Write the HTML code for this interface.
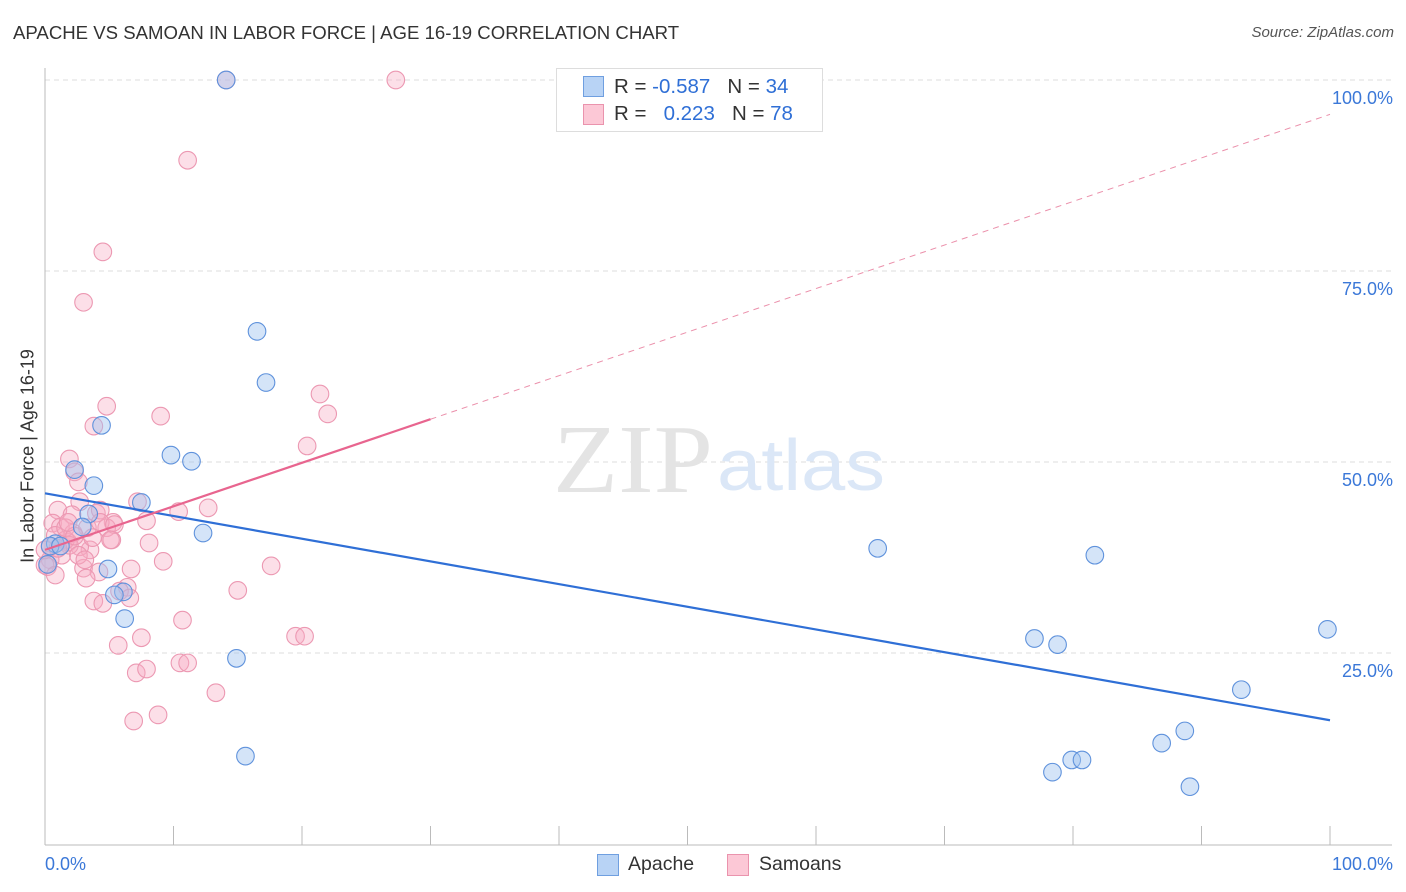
<!DOCTYPE html>
<html><head><meta charset="utf-8"><style>
body{margin:0;background:#fff;font-family:"Liberation Sans",sans-serif}
#wrap{position:relative;width:1406px;height:892px;overflow:hidden}
.t{position:absolute;white-space:nowrap}
</style></head><body>
<div id="wrap">
<div class="t" style="left:13px;top:22px;font-size:18.6px;color:#333">APACHE VS SAMOAN IN LABOR FORCE | AGE 16-19 CORRELATION CHART</div>
<div class="t" style="right:12px;top:24px;font-size:15px;font-style:italic;color:#555">Source: ZipAtlas.com</div>
<svg id="svg" width="1406" height="892" style="position:absolute;left:0;top:0"></svg>
<div class="t" style="left:28px;top:456px;font-size:18px;color:#333;transform:translate(-50%,-50%) rotate(-90deg);transform-origin:center">In Labor Force | Age 16-19</div>
<div style="position:absolute;left:556px;top:68px;width:265px;height:62px;border:1px solid #ddd;background:#fff;font-size:20.5px;color:#333">
 <div style="position:absolute;left:26px;top:7px;width:19px;height:19px;background:#b8d3f5;border:1px solid #6f9fe0"></div>
 <div class="t" style="left:57px;top:6px">R = <span style="color:#2f6fd6">-0.587</span>&nbsp;&nbsp;&nbsp;N = <span style="color:#2f6fd6">34</span></div>
 <div style="position:absolute;left:26px;top:35px;width:19px;height:19px;background:#fcc8d6;border:1px solid #ea93ad"></div>
 <div class="t" style="left:57px;top:33px">R = &nbsp;&nbsp;<span style="color:#2f6fd6">0.223</span>&nbsp;&nbsp;&nbsp;N = <span style="color:#2f6fd6">78</span></div>
</div>
<div style="position:absolute;left:597px;top:854px;width:20px;height:20px;background:#b8d3f5;border:1px solid #6f9fe0"></div>
<div class="t" style="left:628px;top:853px;font-size:19.5px;color:#333">Apache</div>
<div style="position:absolute;left:727px;top:854px;width:20px;height:20px;background:#fcc8d6;border:1px solid #ea93ad"></div>
<div class="t" style="left:759px;top:853px;font-size:19.5px;color:#333">Samoans</div>
</div>
<script>
const yTicks=[25,50,75,100];
const yTickLabels=["25.0%","50.0%","75.0%","100.0%"];
const xLabels=["0.0%","100.0%"];
const apacheX=[14.1,16.5,17.2,9.8,11.4,4.4,2.3,3.8,7.5,3.4,2.9,12.3,4.9,6.1,5.4,6.2,14.9,15.6,64.8,81.7,77.0,78.8,99.8,93.1,88.7,86.9,79.9,80.7,78.4,89.1,0.8,0.4,0.2,1.2];
const apacheY=[100,67.1,60.4,50.9,50.1,54.8,49.0,46.9,44.7,43.2,41.5,40.7,36.0,33.0,32.6,29.5,24.3,11.5,38.7,37.8,26.9,26.1,28.1,20.2,14.8,13.2,11.0,11.0,9.4,7.5,39.3,39.0,36.6,39.0];
const samoaX=[4.8,9.0,3.8,1.9,2.3,2.6,2.7,1.0,7.2,10.4,12.7,7.9,5.3,4.8,2.1,4.0,0.6,1.2,2.2,3.5,5.2,8.1,9.2,17.6,6.7,3.0,4.2,3.2,6.4,5.8,3.8,4.5,15.0,10.7,7.5,5.7,10.5,11.1,7.1,7.9,13.3,6.9,8.8,1.8,0.4,0.4,2.7,0.2,14.1,27.3,11.1,4.5,3.0,21.4,22.0,20.4,19.5,20.2,4.3,0,0.8,1.6,1.3,1.9,2.6,1.6,3.3,4.3,5.4,0.8,2.3,3.7,5.1,0,1.0,3.1,1.8,6.6];
const samoaY=[57.3,56.0,54.7,50.4,48.7,47.4,44.8,43.7,44.8,43.5,44.0,42.3,42.1,41.4,43.1,43.3,42.0,41.5,40.7,38.5,39.8,39.4,37.0,36.4,36.0,36.1,35.6,34.8,33.6,33.1,31.8,31.5,33.2,29.3,27.0,26.0,23.7,23.7,22.4,22.9,19.8,16.1,16.9,39.5,38.9,37.2,38.9,36.3,100,100,89.5,77.5,70.9,58.9,56.3,52.1,27.2,27.2,43.7,36.5,40.4,39.8,37.8,39.1,37.8,41.4,41.4,42.1,41.8,35.2,40.3,40.1,39.8,38.5,38.7,37.2,42.1,32.2];
const apacheTrend=[45.9,16.2];
const samoaTrend=[38.5,95.5];
const X=v=>45+v*12.85, Y=v=>844-v*7.64;
const svg=document.getElementById('svg');const NS='http://www.w3.org/2000/svg';
function mk(t,a){const e=document.createElementNS(NS,t);for(const k in a)e.setAttribute(k,a[k]);svg.appendChild(e);return e;}
yTicks.forEach((v,i)=>{
 const g=mk('line',{x1:45,x2:1392,y1:Y(v),y2:Y(v),stroke:'#ddd','stroke-dasharray':'5,4'});
 
 
 const t=mk('text',{x:1393,y:Y(v)+24,'text-anchor':'end','font-size':18,fill:'#3b78d8','font-family':'Liberation Sans'});
 t.textContent=yTickLabels[i];
 
 
});
const ax=mk('line',{x1:45,x2:45,y1:68,y2:845,stroke:'#bbb'});


const bx=mk('line',{x1:45,x2:1392,y1:845,y2:845,stroke:'#bbb'});


for(let i=0;i<=10;i++){const tk=mk('line',{x1:X(i*10),x2:X(i*10),y1:826,y2:845,stroke:'#bbb'});
 
 }
[[0,'start',45],[100,'end',1393]].forEach((d,i)=>{const t=mk('text',{x:d[2],y:870,'text-anchor':d[1],'font-size':18,fill:'#3b78d8','font-family':'Liberation Sans'});t.textContent=xLabels[i];
 
 });
const w1=mk('text',{x:553,y:492,'font-size':98,fill:'#e4e4e4','font-family':'Liberation Serif',textLength:160,lengthAdjust:'spacingAndGlyphs'});w1.textContent='ZIP';


const w2=mk('text',{x:717,y:490,'font-size':72,fill:'#dbe7f7','font-family':'Liberation Sans',textLength:168,lengthAdjust:'spacingAndGlyphs'});w2.textContent='atlas';


samoaX.forEach((x,i)=>{const c=mk('circle',{cx:X(x),cy:Y(samoaY[i]),r:8.8,fill:'rgba(246,170,195,0.38)',stroke:'#ec98b2','stroke-width':1.1});
 
 });
apacheX.forEach((x,i)=>{const c=mk('circle',{cx:X(x),cy:Y(apacheY[i]),r:8.8,fill:'rgba(160,195,240,0.45)',stroke:'#5f92dc','stroke-width':1.1});
 
 });
const sy=x=>samoaTrend[0]+(samoaTrend[1]-samoaTrend[0])*x/100;
const l1=mk('line',{x1:X(0),y1:Y(apacheTrend[0]),x2:X(100),y2:Y(apacheTrend[1]),stroke:'#2f6fd6','stroke-width':2.2});


const l2=mk('line',{x1:X(0),y1:Y(sy(0)),x2:X(30),y2:Y(sy(30)),stroke:'#e8658f','stroke-width':2.2});


const l3=mk('line',{x1:X(30),y1:Y(sy(30)),x2:X(100),y2:Y(sy(100)),stroke:'#eb90ab','stroke-width':1,'stroke-dasharray':'6,5'});


</script>
</body></html>
